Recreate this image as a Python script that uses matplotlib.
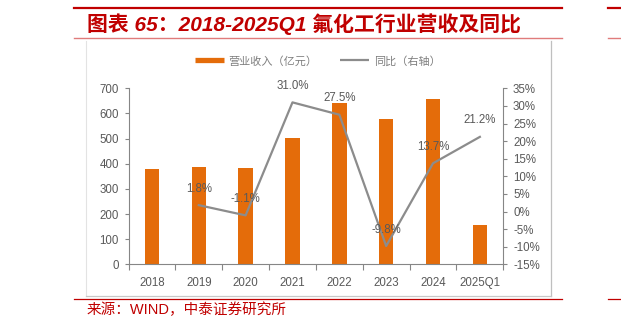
import matplotlib
matplotlib.use("Agg")
import matplotlib.pyplot as plt
from matplotlib.lines import Line2D
import numpy as np

plt.rcParams['font.family'] = ['Liberation Sans', 'Noto Sans CJK SC', 'DejaVu Sans']

categories = ["2018", "2019", "2020", "2021", "2022", "2023", "2024", "2025Q1"]
revenue = [380, 387, 383, 503, 641, 578, 657, 157]
yoy = [None, 1.8, -1.1, 31.0, 27.5, -9.8, 13.7, 21.2]
yoy_labels = ["", "1.8%", "-1.1%", "31.0%", "27.5%", "-9.8%", "13.7%", "21.2%"]
left_ticks = [0, 100, 200, 300, 400, 500, 600, 700]
right_ticks = [-15, -10, -5, 0, 5, 10, 15, 20, 25, 30, 35]

W, H = 621, 330
fig = plt.figure(figsize=(W / 100, H / 100), dpi=100)

def fx(px):
    return px / W

def fy(py):
    return 1 - py / H

ax = fig.add_axes([fx(128.5), fy(264.3), fx(503.3) - fx(128.5), fy(88.3) - fy(264.3)])
ax2 = ax.twinx()

bar_color = '#E46C0A'
line_color = '#8C8C8C'
tick_color = '#595959'
spine_color = '#868686'
fs = 8.3

x = np.arange(len(categories))
ax.bar(x, revenue, width=0.31, color=bar_color, zorder=2)
ax.set_xlim(-0.5, len(categories) - 0.5)
ax.set_ylim(0, 700)
ax.set_yticks(left_ticks)
ax.set_xticks(x)
ax.set_xticklabels(categories)
ax.set_xticks(np.arange(len(categories) + 1) - 0.5, minor=True)
ax.tick_params(axis='x', which='major', length=0, pad=9, labelsize=fs, labelcolor=tick_color)
ax.tick_params(axis='x', which='minor', length=4, direction='out', color=spine_color, width=0.8)
ax.tick_params(axis='y', length=3, direction='out', color=spine_color, width=0.8,
               labelsize=fs, labelcolor=tick_color, pad=4)

lx = [i for i, v in enumerate(yoy) if v is not None]
ly = [v for v in yoy if v is not None]
ax2.plot(lx, ly, color=line_color, linewidth=1.6, zorder=3)
ax2.set_ylim(-15, 35)
ax2.set_yticks(right_ticks)
ax2.set_yticklabels([f"{t}%" for t in right_ticks])
ax2.tick_params(axis='y', length=3, direction='out', color=spine_color, width=0.8,
                labelsize=fs, labelcolor=tick_color, pad=4)
for i, v in enumerate(yoy):
    if v is None:
        continue
    ax2.annotate(yoy_labels[i], (i, v), xytext=(0, 11.8), textcoords='offset points',
                 ha='center', va='center', fontsize=fs, color=tick_color)

for a in (ax, ax2):
    a.spines['top'].set_visible(False)
    for s in ('left', 'right', 'bottom'):
        a.spines[s].set_color(spine_color)
        a.spines[s].set_linewidth(0.8)
ax.spines['right'].set_visible(False)
ax2.spines['left'].set_visible(False)
ax2.spines['bottom'].set_visible(False)
ax.set_zorder(1)
ax2.set_zorder(2)
ax.patch.set_visible(False)

# Legend
handles = [Line2D([], [], color=bar_color, linewidth=3.8, solid_capstyle='butt'),
           Line2D([], [], color=line_color, linewidth=1.6, solid_capstyle='butt')]
fig.legend(handles, ["营业收入（亿元）", "同比（右轴）"], loc='center',
           bbox_to_anchor=(fx(317.5), fy(61)), ncol=2, frameon=False,
           labelcolor='#7F7F7F', handlelength=2.6, handletextpad=0.4,
           columnspacing=2.1, borderpad=0, prop={'family': ['Noto Sans CJK SC'], 'size': 8})

# Decorative frame lines
fig.add_artist(Line2D([fx(74.3), fx(562)], [fy(8), fy(8)], color='#C00000', linewidth=1.6))
fig.add_artist(Line2D([fx(607.7), fx(621)], [fy(8), fy(8)], color='#C00000', linewidth=1.6))
fig.add_artist(Line2D([fx(74.3), fx(562)], [fy(37.6), fy(37.6)], color='#E07B7B', linewidth=1.0))
fig.add_artist(Line2D([fx(607.7), fx(621)], [fy(37.6), fy(37.6)], color='#E07B7B', linewidth=1.0))
fig.add_artist(Line2D([fx(74.3), fx(562)], [fy(299.3), fy(299.3)], color='#C00000', linewidth=0.9))
fig.add_artist(Line2D([fx(607.7), fx(621)], [fy(299.3), fy(299.3)], color='#C00000', linewidth=0.9))
# chart box
fig.add_artist(Line2D([fx(86), fx(86)], [fy(41), fy(295.7)], color='#E3E3E3', linewidth=0.8))
fig.add_artist(Line2D([fx(551), fx(551)], [fy(41), fy(295.7)], color='#BFBFBF', linewidth=0.9))
fig.add_artist(Line2D([fx(86), fx(551)], [fy(295.7), fy(295.7)], color='#C8C8C8', linewidth=0.9))

fig.text(fx(87), fy(24), "图表 65：2018-2025Q1 氟化工行业营收及同比", ha='left', va='center',
         fontsize=15, fontweight='bold', style='italic', color='#C00000',
         family=['Liberation Sans', 'Noto Sans CJK SC'])
fig.text(fx(86.5), fy(310), "来源：WIND，中泰证券研究所", ha='left', va='center',
         fontsize=10.5, color='#C00000', family=['Liberation Sans', 'Noto Sans CJK SC'])

fig.savefig("out.png", dpi=100)
